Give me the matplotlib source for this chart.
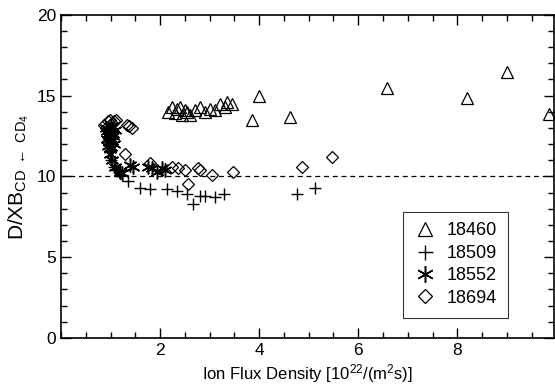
import matplotlib
matplotlib.use("Agg")
import matplotlib.pyplot as plt
from matplotlib.ticker import MultipleLocator

plt.rcParams['font.family'] = ['Liberation Sans', 'DejaVu Sans']
plt.rcParams['mathtext.fontset'] = 'custom'
plt.rcParams['mathtext.rm'] = 'Liberation Sans'
plt.rcParams['mathtext.it'] = 'Liberation Sans:italic'

# shot 18460 (triangles)
x_18460 = [2.15, 2.25, 2.3, 2.35, 2.4, 2.45, 2.5, 2.55, 2.6, 2.7, 2.8, 2.9, 3.0, 3.1, 3.2, 3.3, 3.35, 3.45,
           3.86, 4.0, 4.63, 6.59, 8.2, 9.0, 9.85]
y_18460 = [14.0, 14.3, 13.9, 14.2, 14.3, 13.8, 14.1, 14.0, 13.8, 14.1, 14.3, 14.0, 14.2, 14.1, 14.5, 14.3, 14.6, 14.5,
           13.5, 15.0, 13.7, 15.5, 14.85, 16.45, 13.85]

# shot 18509 (plus)
x_18509 = [1.0, 1.06, 1.1, 1.16, 1.23, 1.36, 1.6, 1.8, 2.13, 2.34, 2.54, 2.67, 2.81, 2.91, 3.11, 3.29, 4.77, 5.12]
y_18509 = [11.0, 10.6, 10.4, 10.3, 10.1, 9.7, 9.3, 9.2, 9.2, 9.1, 8.9, 8.3, 8.8, 8.8, 8.7, 8.9, 8.9, 9.3]

# shot 18552 (asterisk)
x_18552 = [0.9, 0.92, 0.95, 0.97, 1.0, 1.02, 1.05, 1.08, 0.93, 0.96, 0.99, 1.03, 1.06, 0.94, 0.98, 1.01,
           1.04, 0.97, 1.0, 0.99, 1.02, 1.09, 1.19, 1.23, 1.39, 1.46, 1.76, 1.83, 1.93, 2.03, 2.1]
y_18552 = [13.0, 12.8, 12.6, 12.9, 13.1, 12.7, 12.5, 12.9, 12.3, 12.1, 12.4, 12.2, 12.0, 11.9, 11.7, 11.8,
           12.6, 12.5, 12.3, 11.4, 11.0, 10.6, 10.3, 10.2, 10.7, 10.6, 10.6, 10.5, 10.3, 10.5, 10.4]

# shot 18694 (diamonds)
x_18694 = [0.86, 0.9, 0.95, 0.99, 1.03, 1.06, 1.1, 1.33, 1.38, 1.43, 1.29, 1.8, 2.24, 2.37, 2.5, 2.57,
           2.77, 2.81, 3.04, 3.47, 4.86, 5.47]
y_18694 = [13.2, 13.0, 13.4, 13.5, 13.3, 13.4, 13.5, 13.2, 13.1, 13.0, 11.4, 10.8, 10.6, 10.5, 10.4, 9.5,
           10.5, 10.4, 10.1, 10.3, 10.6, 11.2]

fig = plt.figure(figsize=(5.55, 3.92), dpi=100)
ax = fig.add_axes([0.11, 0.138, 0.888, 0.824])

ax.plot(x_18460, y_18460, linestyle='none', marker='^', markersize=8, mfc='none', mec='black', mew=0.9, label='18460')
ax.plot(x_18509, y_18509, linestyle='none', marker='+', markersize=9, color='black', mew=1.0, label='18509')
ax.plot(x_18552, y_18552, linestyle='none', marker=(6, 2, 0), markersize=10, color='black', mew=1.1, label='18552')
ax.plot(x_18694, y_18694, linestyle='none', marker='D', markersize=6, mfc='none', mec='black', mew=0.9, label='18694')

ax.axhline(10, color='black', linestyle=(0, (4, 3)), linewidth=0.9)

ax.set_xlim(0, 9.95)
ax.set_ylim(0, 20)
ax.set_xticks([2, 4, 6, 8])
ax.set_yticks([0, 5, 10, 15, 20])
ax.xaxis.set_minor_locator(MultipleLocator(0.5))
ax.yaxis.set_minor_locator(MultipleLocator(1))
ax.tick_params(which='both', direction='in', top=True, right=True, labelsize=12.5)
ax.tick_params(which='major', length=7, width=1)
ax.tick_params(which='minor', length=4, width=1)
for s in ax.spines.values():
    s.set_linewidth(1.2)

ax.set_xlabel(r'Ion Flux Density [10$^{22}$/(m$^2$s)]', fontsize=12, labelpad=3)
ax.set_ylabel(r'D/XB$_{\mathrm{CD}\ \leftarrow\ \mathrm{CD}_4}$', fontsize=15, labelpad=4)

leg = ax.legend(loc='lower right', bbox_to_anchor=(0.925, 0.035), fontsize=13, frameon=True, fancybox=False,
                edgecolor='black', handlelength=1.2, handletextpad=0.6, labelspacing=0.3, borderpad=0.6,
                markerscale=1.2)
leg.get_frame().set_linewidth(0.8)

fig.savefig('out.png', dpi=100)
